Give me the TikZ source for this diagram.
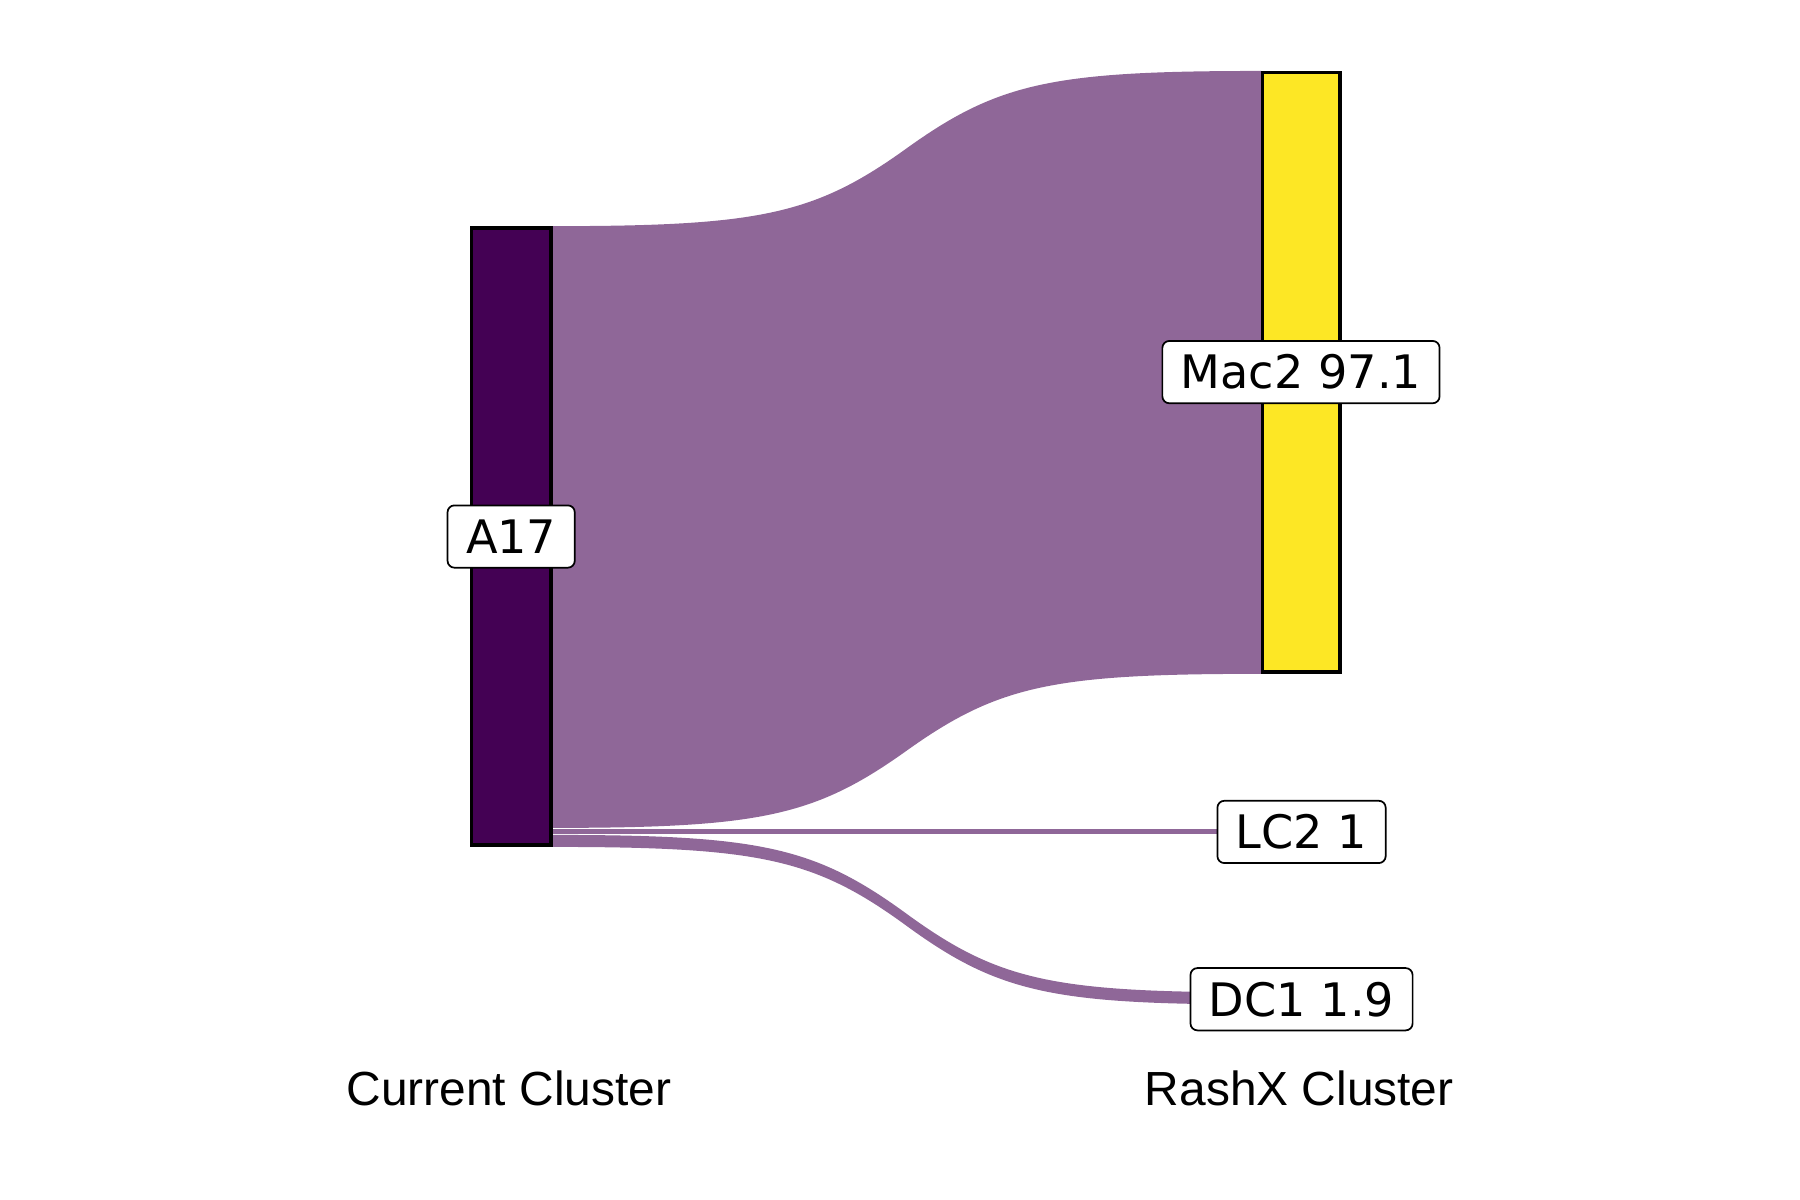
\documentclass[tikz,border=0pt]{standalone}
\usepackage{fontspec}
\setmainfont{DejaVu Sans}
\newfontfamily\axisfont{Liberation Sans}
\definecolor{vdark}{HTML}{440154}
\definecolor{vyellow}{HTML}{FDE725}
\definecolor{flowc}{RGB}{143,103,152}
\tikzset{
  stratum/.style={draw=black, line width=3pt, rectangle, inner sep=0pt, outer sep=0pt},
  lab/.style={draw=black, fill=white, line width=1.5pt, rounded corners=6pt, inner xsep=16pt, inner ysep=0pt, minimum height=54pt, font=\fontsize{40}{48}\selectfont},
  axlab/.style={anchor=base, inner sep=0pt, font=\axisfont\fontsize{41.5}{50}\selectfont},
  flow/.style={fill=flowc, draw=none}
}
\begin{document}
\begin{tikzpicture}[x=1pt,y=-1pt]
\useasboundingbox (0,0) rectangle (1560,1040);
% named anchor coordinates for flows
\coordinate (aTop) at (478,196);
\coordinate (aM) at (478,717.5);
\coordinate (aM2) at (478,718.1);
\coordinate (aL) at (478,723);
\coordinate (aL2) at (478,723.6);
\coordinate (aBot) at (478,734);
\coordinate (mTop) at (1093,61.5);
\coordinate (mBot) at (1093,584);
\coordinate (lTop) at (1093,718.1);
\coordinate (lBot) at (1093,723);
\coordinate (dTop) at (1093,860);
\coordinate (dBot) at (1093,870.5);
% mid points of the curved edges
\coordinate (mt) at (785.5,128.75);
\coordinate (mb) at (785.5,650.75);
\coordinate (dt) at (785.5,791.8);
\coordinate (db) at (785.5,802.25);
% flow A17 -> Mac2
\fill[flow] (aTop) .. controls (658,196) and (705.5,186.3) .. (mt)
  .. controls (865.5,71.2) and (913,61.5) .. (mTop) -- (mBot)
  .. controls (913,584) and (865.5,593.6) .. (mb)
  .. controls (705.5,707.9) and (658,717.5) .. (aM) -- cycle;
% flow A17 -> LC2
\fill[flow] (aM2) -- (lTop) -- (lBot) -- (aL) -- cycle;
% flow A17 -> DC1
\fill[flow] (aL2) .. controls (658,723.6) and (705.5,733.4) .. (dt)
  .. controls (865.5,850.2) and (913,860) .. (dTop) -- (dBot)
  .. controls (913,870.5) and (865.5,860.7) .. (db)
  .. controls (705.5,743.8) and (658,734) .. (aBot) -- cycle;
% strata
\node[stratum, fill=vdark, minimum width=69pt, minimum height=535pt] (A17) at (443,465) {};
\node[stratum, fill=vyellow, minimum width=67.5pt, minimum height=519.5pt] (Mac2) at (1127.75,322.75) {};
% labels
\node[lab] (A17lab) at (443,465) {A17};
\node[lab] (Mac2lab) at (1127.5,322.5) {Mac2 97.1};
\node[lab] (LC2lab) at (1128,721) {LC2 1};
\node[lab] (DC1lab) at (1128,866) {DC1 1.9};
% axis labels
\node[axlab] (curr) at (441,957.7) {Current Cluster};
\node[axlab] (rashx) at (1126,957.7) {RashX Cluster};
\end{tikzpicture}
\end{document}
